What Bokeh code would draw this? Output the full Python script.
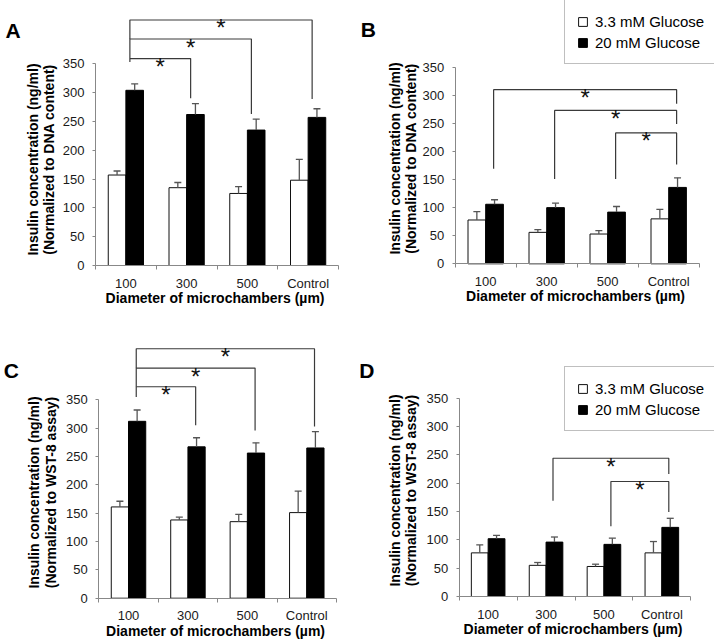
import numpy as np
from bokeh.plotting import figure
from bokeh.layouts import column, row
from bokeh.models import (ColumnDataSource, Range1d, FixedTicker, Whisker, TeeHead,
                          Legend, LegendItem)
from bokeh.core.properties import value
from bokeh.embed import file_html
from bokeh.resources import INLINE

# ---------------- data ----------------
categories = ["100", "300", "500", "Control"]
series_names = ["3.3 mM Glucose", "20 mM Glucose"]
y_ticks = [0, 50, 100, 150, 200, 250, 300, 350]
x_title = "Diameter of microchambers  (\u00b5m)"
y_title_1 = "Insulin concentration (ng/ml)"
y_title_2_dna = "(Normalized to DNA content)"
y_title_2_wst = "(Normalized to WST-8 assay)"

# Panel A
a_low = [157, 135, 125, 148]
a_low_sd = [7, 9, 12, 36]
a_high = [304, 262, 235, 257]
a_high_sd = [11, 19, 19, 15]
# significance brackets: (from, to, top, left end, right end)
a_brackets = [(0, 1, 359, 353, 290), (0, 2, 393, 359, 263), (0, 3, 426, 393, 289)]

# Panel B
b_low = [78, 56, 53, 80]
b_low_sd = [15, 5, 6, 17]
b_high = [106, 100, 92, 136]
b_high_sd = [8, 8, 10, 17]
b_brackets = [(0, 3, 310, 169, 285), (1, 3, 273, 151, 249), (2, 3, 233, 151, 177)]

# Panel C
c_low = [161, 138, 135, 151]
c_low_sd = [10, 5, 13, 38]
c_high = [312, 267, 256, 265]
c_high_sd = [20, 16, 18, 29]
c_brackets = [(0, 1, 373, 355, 305), (0, 2, 406, 373, 296), (0, 3, 440, 406, 303)]

# Panel D
d_low = [77, 55, 53, 77]
d_low_sd = [14, 5, 4, 20]
d_high = [102, 96, 92, 122]
d_high_sd = [6, 9, 11, 16]
d_brackets = [(1, 3, 244, 169, 216), (2, 3, 203, 124, 149)]

FONT = "Liberation Sans"
AXIS_COL = "#888888"
TXT_COL = "#1a1a1a"
W = 357


def make_panel(letter, low, low_sd, high, high_sd, brackets, y_title_2, geo, legend_px=None):
    h = geo["h"]
    ppc = (geo["xend"] - geo["yax"]) / 4.0
    ppu = geo["ppu"]
    x0 = -0.5 - geo["yax"] / ppc
    x1 = x0 + W / ppc
    y1 = geo["y0"] / ppu
    y0 = y1 - h / ppu

    p = figure(width=W, height=h, x_range=Range1d(x0, x1), y_range=Range1d(y0, y1),
               output_backend="svg", toolbar_location=None,
               min_border=0, min_border_left=0, min_border_right=0,
               min_border_top=0, min_border_bottom=0)
    p.grid.visible = False
    p.outline_line_color = None
    p.background_fill_color = "white"
    p.border_fill_color = "white"

    def fx(px):
        return x0 + px / ppc

    def fy(py):
        return y1 - py / ppu

    idx = np.arange(len(categories))
    bw = 0.29
    off = 0.145
    low = np.array(low, float)
    high = np.array(high, float)
    src_low = ColumnDataSource(dict(x=idx - off, top=low, up=low + np.array(low_sd, float)))
    src_high = ColumnDataSource(dict(x=idx + off, top=high, up=high + np.array(high_sd, float)))

    r_low = p.vbar(x="x", top="top", width=bw, source=src_low, fill_color="white",
                   line_color="#111111", line_width=1)
    r_high = p.vbar(x="x", top="top", width=bw, source=src_high, fill_color="black",
                    line_color="black", line_width=1)

    for src in (src_low, src_high):
        w = Whisker(source=src, base="x", lower="top", upper="up", dimension="height",
                    line_color="#555555", line_width=1.3,
                    upper_head=TeeHead(size=7, line_color="#555555", line_width=1.3),
                    lower_head=None, level="overlay")
        p.add_layout(w)

    # significance brackets
    bo = geo["boff"]
    xs, ys, sx, sy = [], [], [], []
    for (a, b, top, le, re) in brackets:
        xl, xr = a + bo, b + bo
        xs.append([xl, xl, xr, xr])
        ys.append([le, top, top, re])
        sx.append((xl + xr) / 2.0)
        sy.append(top)
    p.multi_line(xs=xs, ys=ys, line_color="#3a3a3a", line_width=1.2)
    p.text(x=sx, y=sy, text=["*"] * len(sx), text_font=value(FONT), text_font_size="24px",
           text_align="center", text_baseline="alphabetic", y_offset=8, text_color="#111111")

    # axes (fixed inside the full-size frame)
    xa = p.xaxis[0]
    xa.fixed_location = 0
    xa.bounds = (-0.5, 3.5)
    xa.ticker = FixedTicker(ticks=list(idx), minor_ticks=[i - 0.5 for i in range(len(categories) + 1)])
    xa.major_label_overrides = {int(i): c for i, c in enumerate(categories)}
    xa.major_tick_out = 0
    xa.major_tick_in = 0
    xa.minor_tick_out = 4
    xa.minor_tick_in = 0
    xa.axis_line_color = AXIS_COL
    xa.minor_tick_line_color = AXIS_COL
    xa.major_label_text_font = FONT
    xa.major_label_text_font_size = "13px"
    xa.major_label_text_color = TXT_COL
    xa.major_label_standoff = 6
    xa.axis_label = x_title
    xa.axis_label_text_font = FONT
    xa.axis_label_text_font_size = "14px"
    xa.axis_label_text_font_style = "bold"
    xa.axis_label_text_color = "black"
    xa.axis_label_standoff = -4

    ya = p.yaxis[0]
    ya.fixed_location = -0.5
    ya.bounds = (0, 350)
    ya.ticker = FixedTicker(ticks=y_ticks)
    ya.major_tick_out = 3
    ya.major_tick_in = 0
    ya.minor_tick_out = 0
    ya.minor_tick_in = 0
    ya.axis_line_color = AXIS_COL
    ya.major_tick_line_color = AXIS_COL
    ya.major_label_text_font = FONT
    ya.major_label_text_font_size = "13px"
    ya.major_label_text_color = TXT_COL
    ya.major_label_standoff = 8

    # y title (two lines)
    p.text(x=[fx(geo["yl1"]), fx(geo["yl2"])], y=[fy(geo["ylc"])] * 2,
           text=[y_title_1, y_title_2], angle=np.pi / 2,
           text_align="center", text_baseline="middle",
           text_font=value(FONT), text_font_size="14px", text_font_style="bold",
           text_color="black")

    # panel letter
    p.text(x=[fx(geo["letter_x"])], y=[fy(geo["letter_y"])], text=[letter], text_align="left",
           text_baseline="alphabetic", text_font=value(FONT), text_font_size="21px",
           text_font_style="bold", text_color="black")

    if legend_px is not None:
        lx, ly_top = legend_px
        leg_h = 62
        leg = Legend(items=[LegendItem(label=series_names[0], renderers=[r_low]),
                            LegendItem(label=series_names[1], renderers=[r_high])],
                     location=(lx, h - ly_top - leg_h), orientation="vertical",
                     label_text_font=FONT, label_text_font_size="15px", label_text_color="black",
                     glyph_width=11, glyph_height=11, label_height=18, label_standoff=7,
                     padding=12, spacing=3, margin=0,
                     border_line_color="#7f7f7f", border_line_width=1.5,
                     background_fill_color="white", background_fill_alpha=1.0)
        p.add_layout(leg)
    return p


geo_a = dict(h=320, yax=95, xend=338, y0=265, ppu=0.5763, boff=0.066,
             yl1=32, yl2=48.3, ylc=159, letter_x=5, letter_y=30)
geo_b = dict(h=320, yax=97.7, xend=341.7, y0=263.3, ppu=0.5617, boff=0.13,
             yl1=37.3, yl2=53.3, ylc=158, letter_x=3.3, letter_y=29.3)
geo_c = dict(h=319, yax=98.3, xend=336, y0=277.7, ppu=0.5669, boff=0.13,
             yl1=33.3, yl2=50, ylc=172, letter_x=3.3, letter_y=50)
geo_d = dict(h=319, yax=101.7, xend=333.3, y0=276, ppu=0.5666, boff=0.12,
             yl1=37.3, yl2=53.3, ylc=170, letter_x=1.7, letter_y=50)

pa = make_panel("A", a_low, a_low_sd, a_high, a_high_sd, a_brackets, y_title_2_dna, geo_a)
pb = make_panel("B", b_low, b_low_sd, b_high, b_high_sd, b_brackets, y_title_2_dna, geo_b, legend_px=(207, 2))
pc = make_panel("C", c_low, c_low_sd, c_high, c_high_sd, c_brackets, y_title_2_wst, geo_c)
pd_ = make_panel("D", d_low, d_low_sd, d_high, d_high_sd, d_brackets, y_title_2_wst, geo_d, legend_px=(207, 49))

layout = column(row(pa, pb), row(pc, pd_))
open("out.html", "w").write(file_html(layout, INLINE))
